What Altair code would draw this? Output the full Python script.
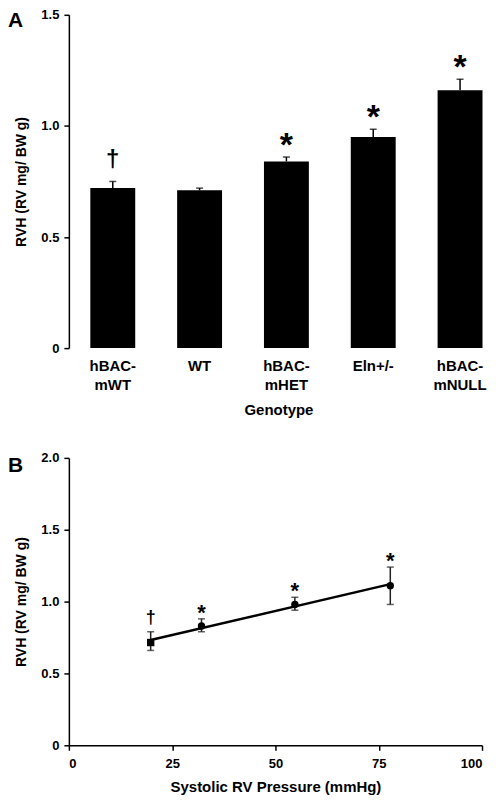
import altair as alt
import pandas as pd

FONT = "Liberation Sans"

# ---- Panel A data ----
genotypes = ["hBAC-mWT", "WT", "hBAC-mHET", "Eln+/-", "hBAC-mNULL"]
rvh_mean = [0.72, 0.71, 0.84, 0.95, 1.16]
rvh_sem = [0.03, 0.01, 0.02, 0.035, 0.05]
sig_a = ["†", "", "*", "*", "*"]

# ---- Panel B data ----
groups_b = ["hBAC-mWT", "hBAC-mHET", "Eln+/-", "hBAC-mNULL"]
pressure = [19.8, 32.1, 54.7, 77.8]
rvh_b = [0.715, 0.83, 0.98, 1.11]
err_lo = [0.66, 0.79, 0.94, 0.98]
err_hi = [0.79, 0.88, 1.03, 1.24]
sig_b = ["†", "*", "*", "*"]
markers_b = ["square", "circle", "circle", "circle"]

dfa = pd.DataFrame({"genotype": genotypes, "rvh": rvh_mean, "sem": rvh_sem, "sig": sig_a})
dfb = pd.DataFrame({"group": groups_b, "pressure": pressure, "rvh": rvh_b,
                    "lo": err_lo, "hi": err_hi, "sig": sig_b})

label_expr = ("indexof(datum.label, 'hBAC-') == 0 ? ['hBAC-', substring(datum.label, 5)] : datum.label")
num_expr = "datum.value == 0 ? '0' : format(datum.value, '.1f')"

xa = alt.X("genotype:N", sort=genotypes,
           scale=alt.Scale(paddingInner=0.4828, paddingOuter=0.1552, align=0.796),
           axis=alt.Axis(title="Genotype", labelAngle=0, domain=False, ticks=False,
                         labelPadding=10, labelFontSize=15, labelLineHeight=19,
                         labelExpr=label_expr, titlePadding=11, titleFontSize=15))
xa_plain = alt.X("genotype:N", sort=genotypes)
ya = alt.Y("rvh:Q", scale=alt.Scale(domain=[0, 1.5], nice=False),
           axis=alt.Axis(values=[0, 0.5, 1, 1.5], labelExpr=num_expr,
                         title="RVH (RV mg/ BW g)", titlePadding=12, labelPadding=5))

base_a = alt.Chart(dfa).transform_calculate(top="datum.rvh + datum.sem")
bars = base_a.mark_bar(color="black").encode(x=xa, y=ya)
err_a = base_a.mark_rule(color="black", strokeWidth=1.5).encode(
    x=xa_plain, y="rvh:Q", y2="top:Q")
caps_a = base_a.mark_tick(color="black", size=7, thickness=1.5).encode(
    x=xa_plain, y="top:Q")
dag_a = base_a.transform_filter("datum.sig == '†'").mark_text(
    font=FONT, fontWeight="bold", fontSize=24, baseline="alphabetic", dy=-14,
    color="black").encode(x=xa_plain, y="top:Q", text="sig:N")
star_a = base_a.transform_filter("datum.sig == '*'").mark_text(
    font=FONT, fontWeight="bold", fontSize=34, baseline="alphabetic", dy=-1,
    color="black").encode(x=xa_plain, y="top:Q", text="sig:N")
letter_a = alt.Chart(pd.DataFrame({"t": ["A"]})).mark_text(
    font=FONT, fontWeight="bold", fontSize=21, align="left", baseline="alphabetic",
    color="black").encode(x=alt.value(-61), y=alt.value(12), text="t:N")

panel_a = alt.layer(bars, err_a, caps_a, dag_a, star_a, letter_a).properties(
    width=420, height=334)

# ---- Panel B ----
xb = alt.X("pressure:Q", scale=alt.Scale(domain=[0, 100], nice=False),
           axis=alt.Axis(values=[0, 25, 50, 75, 100], format="d",
                         title="Systolic RV Pressure (mmHg)", titleFontSize=15,
                         titlePadding=9, labelPadding=7))
yb = alt.Y("rvh:Q", scale=alt.Scale(domain=[0, 2], nice=False),
           axis=alt.Axis(values=[0, 0.5, 1, 1.5, 2], labelExpr=num_expr,
                         title="RVH (RV mg/ BW g)", titlePadding=12, labelPadding=5))

base_b = alt.Chart(dfb)
line_b = base_b.transform_regression("pressure", "rvh").mark_line(
    color="black", strokeWidth=2.5).encode(x=xb, y=yb)
err_b = base_b.mark_rule(color="#222222", strokeWidth=1.5).encode(
    x="pressure:Q", y="lo:Q", y2="hi:Q")
caps_lo = base_b.mark_tick(color="#222222", size=7, thickness=1.5, orient="horizontal").encode(
    x="pressure:Q", y="lo:Q")
caps_hi = base_b.mark_tick(color="#222222", size=7, thickness=1.5, orient="horizontal").encode(
    x="pressure:Q", y="hi:Q")
pts_b = base_b.mark_point(filled=True, color="black", size=55, opacity=1).encode(
    x="pressure:Q", y="rvh:Q",
    shape=alt.Shape("group:N", scale=alt.Scale(domain=groups_b, range=markers_b), legend=None))
dag_b = base_b.transform_filter("datum.sig == '†'").mark_text(
    font=FONT, fontWeight="bold", fontSize=18, baseline="alphabetic", dy=-9,
    color="black").encode(x="pressure:Q", y="hi:Q", text="sig:N")
star_b = base_b.transform_filter("datum.sig == '*'").mark_text(
    font=FONT, fontWeight="bold", fontSize=22, baseline="alphabetic", dy=1,
    color="black").encode(x="pressure:Q", y="hi:Q", text="sig:N")
letter_b = alt.Chart(pd.DataFrame({"t": ["B"]})).mark_text(
    font=FONT, fontWeight="bold", fontSize=21, align="left", baseline="alphabetic",
    color="black").encode(x=alt.value(-61), y=alt.value(14), text="t:N")

panel_b = alt.layer(line_b, err_b, caps_lo, caps_hi, pts_b, dag_b, star_b, letter_b).properties(
    width=414, height=288)

chart = alt.vconcat(panel_a, panel_b, spacing=34).properties(
    padding={"left": 0, "top": 0, "right": 0, "bottom": 0}
).configure_axis(
    labelFont=FONT, titleFont=FONT, labelFontWeight="bold", titleFontWeight="bold",
    labelColor="black", titleColor="black", domainColor="black", tickColor="black",
    grid=False, domainWidth=1.5, tickWidth=1.5, tickSize=5, labelFontSize=13,
    titleFontSize=14
).configure_view(stroke=None)

chart.save("out.html", embed_options={"renderer": "svg", "actions": False})
